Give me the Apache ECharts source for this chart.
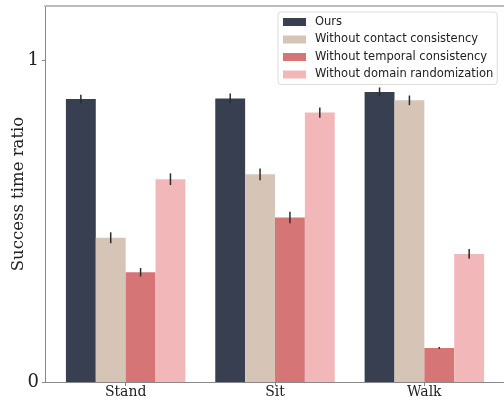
<!DOCTYPE html>
<html>
<head>
<meta charset="utf-8">
<script src="https://cdn.jsdelivr.net/npm/echarts@6/dist/echarts.min.js"></script>
<style>
  html, body { margin: 0; padding: 0; background: #fff; }
  #chart { width: 504px; height: 401px; }
</style>
</head>
<body>
<div id="chart"></div>
<script>
var categories = ['Stand', 'Sit', 'Walk'];
var seriesNames = ['Ours', 'Without contact consistency', 'Without temporal consistency', 'Without domain randomization'];
var colors = ['#373f51', '#d6c4b6', '#d67576', '#f2b8b9'];

// success time ratio per category (Stand, Sit, Walk)
var ours     = [0.879, 0.881, 0.901];
var contact  = [0.448, 0.645, 0.875];
var temporal = [0.341, 0.511, 0.106];
var domain   = [0.630, 0.837, 0.398];

// half-length of the error bars
var oursErr     = [0.013, 0.015, 0.014];
var contactErr  = [0.017, 0.018, 0.015];
var temporalErr = [0.013, 0.018, 0.003];
var domainErr   = [0.018, 0.016, 0.015];

var yTicks = [0, 1];
var xTicks = [0, 1, 2];

var values = [ours, contact, temporal, domain];
var errors = [oursErr, contactErr, temporalErr, domainErr];
var barOffsets = [-0.3, -0.1, 0.1, 0.3];   // bar centres inside a group, in category units

var chart = echarts.init(document.getElementById('chart'));

var series = [];
seriesNames.forEach(function (name, i) {
    series.push({
        name: name,
        type: 'bar',
        barWidth: '20%',
        barGap: '0%',
        itemStyle: { color: colors[i] },
        data: values[i].map(function (v, k) { return [k, v]; })
    });
});
seriesNames.forEach(function (name, i) {
    series.push({
        type: 'custom',
        silent: true,
        z: 5,
        renderItem: function (params, api) {
            var x = api.value(0) + barOffsets[i];
            var lo = api.coord([x, api.value(1) - api.value(2)]);
            var hi = api.coord([x, api.value(1) + api.value(2)]);
            return {
                type: 'line',
                shape: { x1: lo[0], y1: lo[1], x2: hi[0], y2: hi[1] },
                style: { stroke: '#2b2b2b', lineWidth: 1.5 }
            };
        },
        data: values[i].map(function (v, k) { return [k, v, errors[i][k]]; })
    });
});

chart.setOption({
    animation: false,
    grid: { left: 45, right: -1, top: 6, bottom: 19, outerBoundsMode: 'none' },
    legend: {
        data: seriesNames,
        orient: 'vertical',
        left: 278,
        top: 12,
        padding: [4, 4, 4, 5],
        itemWidth: 23,
        itemHeight: 8,
        itemGap: 5.5,
        icon: 'rect',
        backgroundColor: '#fff',
        borderColor: '#dcdcdc',
        borderWidth: 1,
        borderRadius: 3,
        textStyle: { fontFamily: 'DejaVu Sans', fontSize: 11.5, color: '#222', lineHeight: 12, padding: [0, 0, 0, 4] }
    },
    xAxis: [{
        type: 'value',
        min: -0.54,
        max: 2.54,
        splitLine: { show: false },
        axisLine: { show: true, onZero: false, lineStyle: { color: '#888', width: 1 } },
        axisTick: { show: true, customValues: xTicks, length: 4, lineStyle: { color: '#888' } },
        axisLabel: {
            customValues: xTicks,
            formatter: function (v) { return categories[Math.round(v)]; },
            fontFamily: 'DejaVu Serif', fontSize: 14, color: '#222', margin: 3
        }
    }, {
        // top spine
        type: 'value',
        position: 'top',
        min: -0.54,
        max: 2.54,
        splitLine: { show: false },
        axisLine: { show: true, onZero: false, lineStyle: { color: '#bbb', width: 2 } },
        axisTick: { show: false },
        axisLabel: { show: false }
    }],
    yAxis: {
        type: 'value',
        min: 0,
        max: 1.168,
        name: 'Success time ratio',
        nameLocation: 'middle',
        nameGap: 18,
        nameMoveOverlap: false,
        nameTextStyle: { fontFamily: 'DejaVu Serif', fontSize: 16.5, color: '#222' },
        splitLine: { show: false },
        axisLine: { show: true, onZero: false, lineStyle: { color: '#888', width: 1 } },
        axisTick: { show: true, customValues: yTicks, length: 3, lineStyle: { color: '#888' } },
        axisLabel: {
            customValues: yTicks,
            fontFamily: 'DejaVu Serif', fontSize: 18, color: '#222', margin: 6
        }
    },
    series: series
});
</script>
</body>
</html>
